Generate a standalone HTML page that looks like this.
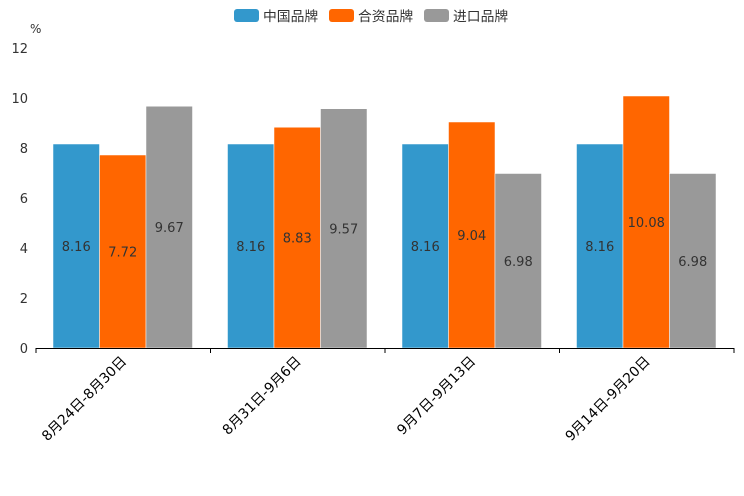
<!DOCTYPE html>
<html><head><meta charset="utf-8"><style>
body{margin:0;background:#fff;}
svg{display:block;font-family:"DejaVu Sans","Noto Sans CJK SC",sans-serif;}
</style></head><body>
<svg id="chart" width="744" height="496">
<g id="legend"></g>
<text x="30" y="33" font-size="12" fill="#333">%</text>
<g id="yaxis"></g>
<g id="bars"></g>
<g id="xaxis"></g>
</svg>
<script>
const categories=["8月24日-8月30日","8月31日-9月6日","9月7日-9月13日","9月14日-9月20日"];
const seriesNames=["中国品牌","合资品牌","进口品牌"];
const chinaValues=[8.16,8.16,8.16,8.16];
const jvValues=[7.72,8.83,9.04,10.08];
const importValues=[9.67,9.57,6.98,6.98];
const yTicks=[0,2,4,6,8,10,12];
const colors=["#3398cc","#ff6600","#999999"];
const series=[chinaValues,jvValues,importValues];
const NS="http://www.w3.org/2000/svg";
const X0=36,X1=734,Y0=348,Y1=48,YMAX=12;
const y=v=>Y0-(v/YMAX)*(Y0-Y1);
const gw=(X1-X0)/categories.length;
const bw=46.5,pad=17;
const xBar=(i,s)=>X0+i*gw+pad+s*bw;
function mk(tag,attrs,parent){const e=document.createElementNS(NS,tag);for(const k in attrs)e.setAttribute(k,attrs[k]);parent.appendChild(e);return e;}
const yg=document.getElementById('yaxis');
yTicks.forEach(t=>{const tx=mk('text',{x:28,y:y(t)+5,'text-anchor':'end','font-size':13,fill:'#333'},yg);tx.textContent=t;

});
const bg=document.getElementById('bars');
categories.forEach((c,i)=>{series.forEach((arr,s)=>{const v=arr[i];
const r=mk('rect',{x:xBar(i,s),y:y(v),width:bw,height:Y0-y(v),fill:colors[s],stroke:'#fff','stroke-width':0.5},bg);


const t=mk('text',{x:xBar(i,s)+bw/2,y:(y(v)+Y0)/2+5,'text-anchor':'middle','font-size':13,fill:'#333'},bg);t.textContent=v.toFixed(2);

});});
const xg=document.getElementById('xaxis');
mk('line',{x1:X0,y1:Y0+0.5,x2:X1,y2:Y0+0.5,stroke:'#000'},xg);
for(let i=0;i<=categories.length;i++){const xx=X0+i*gw;mk('line',{x1:xx,y1:Y0,x2:xx,y2:Y0+5,stroke:'#000'},xg);}
categories.forEach((c,i)=>{const cx=X0+i*gw+gw/2+4,cy=Y0+14;
const t=mk('text',{x:cx,y:cy,'text-anchor':'end','font-size':13.8,fill:'#000',transform:`rotate(-45 ${cx} ${cy})`},xg);t.textContent=c;

});
const lg=document.getElementById('legend');
const lx=[234,329,424];
seriesNames.forEach((n,s)=>{const r=mk('rect',{x:lx[s],y:9,width:25,height:13,rx:3,fill:colors[s]},lg);


const t=mk('text',{x:lx[s]+29,y:21,'font-size':13.8,fill:'#333'},lg);t.textContent=n;

});
</script>
</body></html>
